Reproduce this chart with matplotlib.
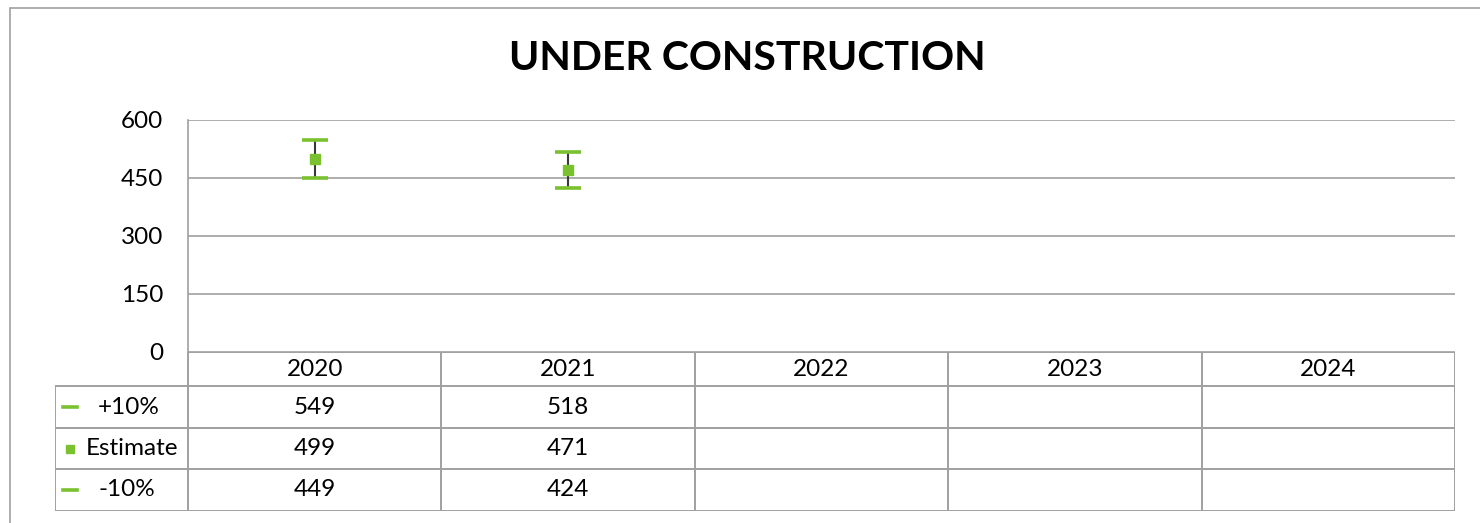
import matplotlib
matplotlib.use('Agg')
import matplotlib.pyplot as plt
from matplotlib.patches import Rectangle

plt.rcParams['font.family'] = ['Lato', 'DejaVu Sans']

# data
years = ['2020', '2021', '2022', '2023', '2024']
plus10 = [549, 518, None, None, None]
estimate = [499, 471, None, None, None]
minus10 = [449, 424, None, None, None]
row_labels = ['+10%', 'Estimate', '-10%']
title = 'UNDER CONSTRUCTION'

GREEN = '#7AC12F'
GRID = '#A0A0A0'
W, H = 1480, 523
FS = 17.5


def fx(px):
    return px / W


def fy(py):
    return 1 - py / H


fig = plt.figure(figsize=(14.8, 5.23), dpi=100)

# outer chart frame
frame = Rectangle((fx(10), -0.1), 1.2, fy(8) + 0.1, transform=fig.transFigure,
                  fill=False, edgecolor=GRID, linewidth=1.2)
fig.patches.append(frame)

fig.text(fx(747), fy(59), title, ha='center', va='center',
         fontsize=29.5, fontweight='bold', color='black')

# plot area
L, R, T, B = 188, 1455, 120, 352
ax = fig.add_axes([fx(L), fy(B), fx(R) - fx(L), fy(T) - fy(B)])
n = len(years)
xs = list(range(n))
ax.set_xlim(-0.5, n - 0.5)
ax.set_ylim(0, 600)
ax.set_yticks([0, 150, 300, 450, 600])
ax.yaxis.grid(True, color=GRID, linewidth=1.2)
ax.set_axisbelow(True)
for s in ['top', 'right', 'bottom']:
    ax.spines[s].set_visible(False)
ax.spines['left'].set_color(GRID)
ax.spines['left'].set_linewidth(1.2)
ax.tick_params(axis='y', length=0, labelsize=FS, pad=18)
ax.tick_params(axis='x', length=0, labelbottom=False)

pts = [(x, hi, e, lo) for x, hi, e, lo in zip(xs, plus10, estimate, minus10) if e is not None]
for x, hi, e, lo in pts:
    ax.vlines(x, lo, hi, color='#3A3A3A', linewidth=1.5, zorder=3)
ax.plot([p[0] for p in pts], [p[1] for p in pts], ls='none', marker='_',
        markersize=19, markeredgewidth=2.6, color=GREEN, zorder=4)
ax.plot([p[0] for p in pts], [p[3] for p in pts], ls='none', marker='_',
        markersize=19, markeredgewidth=2.6, color=GREEN, zorder=4)
ax.plot([p[0] for p in pts], [p[2] for p in pts], ls='none', marker='s',
        markersize=7, color=GREEN, zorder=5)

# data table
TL = 55
row_y = [352, 386, 428, 469, 511]
tax = fig.add_axes([fx(TL), fy(row_y[-1]), fx(R) - fx(TL), fy(row_y[0]) - fy(row_y[-1])])
col_w = (R - L) / n
left_x = -0.5 - (L - TL) / col_w
tax.set_xlim(left_x, n - 0.5)
tax.set_ylim(row_y[-1], row_y[0])
tax.axis('off')
lc = dict(color=GRID, linewidth=1.4)
# horizontal lines
tax.plot([-0.5, n - 0.5], [row_y[0], row_y[0]], **lc)
for y in row_y[1:]:
    tax.plot([left_x, n - 0.5], [y, y], **lc)
# vertical lines
tax.plot([left_x, left_x], [row_y[1], row_y[-1]], **lc)
for i in range(n + 1):
    tax.plot([i - 0.5, i - 0.5], [row_y[0], row_y[-1]], **lc)

for i, yr in enumerate(years):
    tax.text(i, (row_y[0] + row_y[1]) / 2, yr, ha='center', va='center', fontsize=FS)
for r, series in enumerate([plus10, estimate, minus10]):
    yc = (row_y[r + 1] + row_y[r + 2]) / 2
    for i, v in enumerate(series):
        if v is not None:
            tax.text(i, yc, str(v), ha='center', va='center', fontsize=FS)

# row headers with legend keys
key_x = left_x + (70 - TL) / col_w
lab_x = {'+10%': 98, 'Estimate': 86, '-10%': 98}
for r, lab in enumerate(row_labels):
    yc = (row_y[r + 1] + row_y[r + 2]) / 2
    if lab == 'Estimate':
        tax.plot([key_x], [yc], marker='s', markersize=6, color=GREEN, ls='none')
    else:
        tax.plot([key_x - 7 / col_w, key_x + 7 / col_w], [yc, yc], color=GREEN, linewidth=2.6)
    tax.text(left_x + (lab_x[lab] - TL) / col_w, yc, lab, ha='left', va='center', fontsize=FS)

fig.savefig('out.png', dpi=100)
